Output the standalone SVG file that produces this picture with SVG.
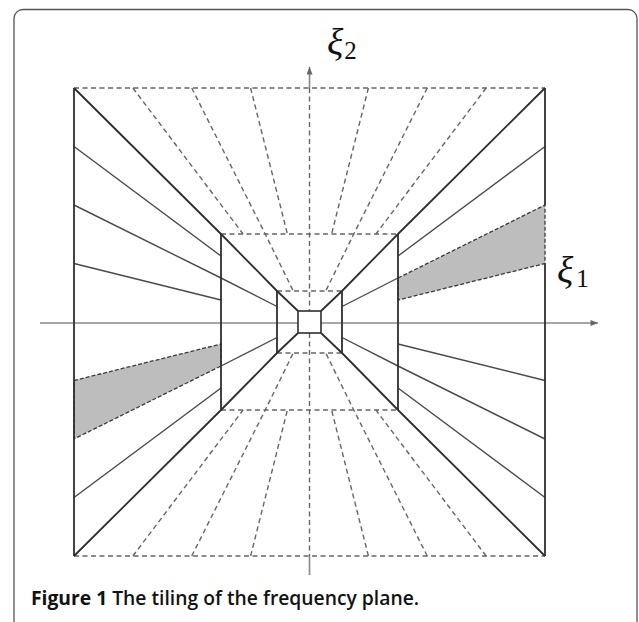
<svg xmlns="http://www.w3.org/2000/svg" width="639" height="622" viewBox="0 0 639 622">
<style>
.frame{fill:#fff;stroke:#555;stroke-width:1.3}
.edge{stroke:#2e2e2e;stroke-width:1.8;fill:none}
.diag{stroke:#2e2e2e;stroke-width:1.8;fill:none;stroke-linejoin:round}
.ray{stroke:#4a4a4a;stroke-width:1.4;fill:none}
.dash{stroke:#666;stroke-width:1.4;fill:none;stroke-dasharray:5 3.5}
.axis{stroke:#888;stroke-width:1.6;fill:none}
.shade{fill:#bdbdbd;stroke:#3a3a3a;stroke-width:1.3;stroke-dasharray:4 2}
.lbl{font-family:"Liberation Serif","DejaVu Serif",serif;font-style:italic;fill:#111}
.cap{font-family:"Open Sans","Noto Sans","Liberation Sans",sans-serif;fill:#111}
</style>
<defs>
<marker id="arr" viewBox="0 0 10 8" refX="10" refY="4" markerWidth="9" markerHeight="6" orient="auto" markerUnits="userSpaceOnUse">
<path d="M0,0 L10,4 L0,8 z" fill="#666"/>
</marker>
</defs>
<rect class="frame" x="14" y="9.5" width="623" height="630" rx="9"/>

<g id="axes">
<line class="axis" x1="40" y1="323" x2="598" y2="323" marker-end="url(#arr)"/>
<line class="axis" x1="309.5" y1="88" x2="309.5" y2="67" marker-end="url(#arr)"/>
<line class="axis" x1="309.5" y1="556" x2="309.5" y2="575"/>
</g>

<g id="shaded">
<polygon id="shade-right" class="shade" points="398,278 545,205 545,263.5 398,300"/>
<polygon id="shade-left" class="shade" points="74,380.5 221,344 221,366 74,439"/>
</g>

<g id="connectors">
<line class="dash" x1="74" y1="88" x2="545" y2="88"/>
<line class="dash" x1="74" y1="556" x2="545" y2="556"/>
<line class="dash" x1="221" y1="234" x2="398" y2="234"/>
<line class="dash" x1="221" y1="410" x2="398" y2="410"/>
<line class="dash" x1="277" y1="291" x2="342" y2="291"/>
<line class="dash" x1="277" y1="353" x2="342" y2="353"/>
<line class="dash" x1="309.5" y1="88" x2="309.5" y2="311"/>
<line class="dash" x1="309.5" y1="333" x2="309.5" y2="556"/>
<line class="dash" x1="132.9" y1="88" x2="243.1" y2="234"/>
<polyline class="dash" points="191.75,88 265.25,234 293.25,291"/>
<line class="dash" x1="250.6" y1="88" x2="287.4" y2="234"/>
<line class="dash" x1="368.4" y1="88" x2="331.6" y2="234"/>
<polyline class="dash" points="427.25,88 353.75,234 325.75,291"/>
<line class="dash" x1="486.1" y1="88" x2="375.9" y2="234"/>
<line class="dash" x1="132.9" y1="556" x2="243.1" y2="410"/>
<polyline class="dash" points="191.75,556 265.25,410 293.25,353"/>
<line class="dash" x1="250.6" y1="556" x2="287.4" y2="410"/>
<line class="dash" x1="368.4" y1="556" x2="331.6" y2="410"/>
<polyline class="dash" points="427.25,556 353.75,410 325.75,353"/>
<line class="dash" x1="486.1" y1="556" x2="375.9" y2="410"/>
<line class="ray" x1="74" y1="146.5" x2="221" y2="256"/>
<polyline class="ray" points="74,205 221,278 277,306.5"/>
<line class="ray" x1="74" y1="263.5" x2="221" y2="300"/>
<line class="ray" x1="221" y1="366" x2="277" y2="337.5"/>
<line class="ray" x1="74" y1="497.5" x2="221" y2="388"/>
<line class="ray" x1="545" y1="146.5" x2="398" y2="256"/>
<line class="ray" x1="398" y1="278" x2="342" y2="306.5"/>
<line class="ray" x1="545" y1="380.5" x2="398" y2="344"/>
<polyline class="ray" points="545,439 398,366 342,337.5"/>
<line class="ray" x1="545" y1="497.5" x2="398" y2="388"/>
<polyline class="diag" points="74,88 221,234 277,291 298,311"/>
<polyline class="diag" points="545,88 398,234 342,291 321,311"/>
<polyline class="diag" points="74,556 221,410 277,353 298,333"/>
<polyline class="diag" points="545,556 398,410 342,353 321,333"/>
</g>

<g id="outer-square">
<line class="edge" x1="74" y1="88" x2="74" y2="556"/>
<line class="edge" x1="545" y1="88" x2="545" y2="205"/>
<line class="edge" x1="545" y1="263.5" x2="545" y2="556"/>
</g>
<g id="middle-rect">
<line class="edge" x1="221" y1="234" x2="221" y2="410"/>
<line class="edge" x1="398" y1="234" x2="398" y2="410"/>
</g>
<g id="inner-rect">
<line class="edge" x1="277" y1="291" x2="277" y2="353"/>
<line class="edge" x1="342" y1="291" x2="342" y2="353"/>
</g>
<g id="center-square">
<rect x="298" y="311" width="23" height="22" fill="#fff" stroke="#2e2e2e" stroke-width="1.6"/>
</g>

<g id="labels">
<text class="lbl" x="327" y="55" font-size="38">ξ<tspan font-size="25" font-style="normal" dx="1" dy="4">2</tspan></text>
<text class="lbl" x="557" y="283" font-size="38">ξ<tspan font-size="25" font-style="normal" dx="3" dy="4">1</tspan></text>
</g>

<g id="caption">
<text class="cap" x="31" y="605" font-size="19.3"><tspan font-weight="700">Figure 1</tspan><tspan font-weight="600"> The tiling of the frequency plane.</tspan></text>
</g>
</svg>
